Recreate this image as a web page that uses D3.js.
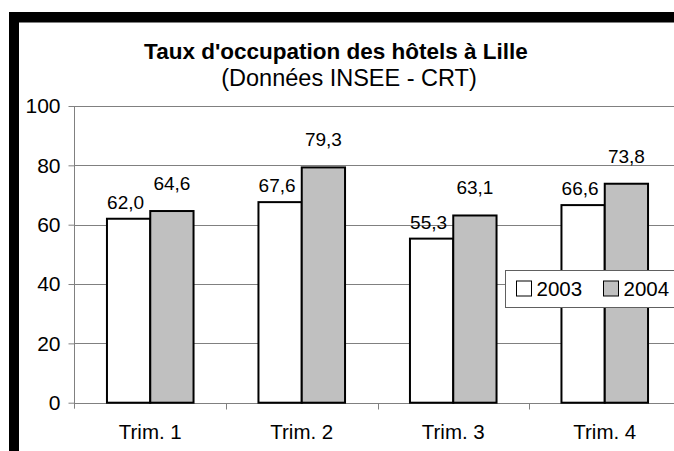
<!DOCTYPE html>
<html>
<head>
<meta charset="utf-8">
<script src="https://cdn.jsdelivr.net/npm/d3@7"></script>
<style>
    body { margin: 0; background: #fff; }
    svg { display: block; font-family: "Liberation Sans", Arial, sans-serif; }
</style>
</head>
<body>
<div id="chart"></div>
<script>

// data
let categories = ["Trim. 1", "Trim. 2", "Trim. 3", "Trim. 4"];
let seriesNames = ["2003", "2004"];
let values2003 = [62.0, 67.6, 55.3, 66.6];
let values2004 = [64.6, 79.3, 63.1, 73.8];
let yTicks = [0, 20, 40, 60, 80, 100];
let seriesFills = ["#ffffff", "#c0c0c0"];

let width = 674, height = 451;

let svg = d3.select("#chart").append("svg")
    .attr("width", width)
    .attr("height", height);

svg.append("rect")
    .attr("width", width)
    .attr("height", height)
    .attr("fill", "#fff");

// black frame pieces (top and left)
svg.append("rect").attr("x", 9).attr("y", 12).attr("width", width - 9).attr("height", 10.5).attr("fill", "#000");
svg.append("rect").attr("x", 9).attr("y", 12).attr("width", 10).attr("height", height - 12).attr("fill", "#000");

// titles
svg.append("text")
    .attr("x", 336).attr("y", 59)
    .attr("text-anchor", "middle")
    .attr("font-size", 22.5).attr("font-weight", "bold")
    .text("Taux d'occupation des hôtels à Lille");

svg.append("text")
    .attr("x", 349).attr("y", 86)
    .attr("text-anchor", "middle")
    .attr("font-size", 23.5)
    .text("(Données INSEE - CRT)");

// scales
let x0 = d3.scaleBand()
    .domain(categories)
    .range([74.5, 680.5])
    .paddingInner(0)
    .paddingOuter(0);

let barW = x0.bandwidth() / 3.5;   // gap width 150%

let x1 = d3.scaleBand()
    .domain(seriesNames)
    .range([0, barW * 2]);

let y = d3.scaleLinear()
    .domain([0, 100])
    .range([402.7, 106]);

let plot = svg.append("g");

// gridlines
plot.selectAll(".grid")
    .data(yTicks.filter(d => d > 0))
    .enter().append("line")
    .attr("x1", 74.5).attr("x2", width)
    .attr("y1", d => Math.round(y(d)) + 0.5)
    .attr("y2", d => Math.round(y(d)) + 0.5)
    .attr("stroke", "#808080")
    .attr("stroke-width", 1);

// y axis
let yAxis = d3.axisLeft(y)
    .tickValues(yTicks)
    .tickSize(6)
    .tickPadding(8)
    .tickFormat(d3.format("d"));

let yg = svg.append("g")
    .attr("transform", "translate(74.5,0)")
    .call(yAxis);
yg.select(".domain").remove();
yg.selectAll(".tick line").attr("stroke", "#808080");
yg.selectAll(".tick text")
    .attr("font-size", 21)
    .attr("font-family", "Liberation Sans, Arial, sans-serif")
    .attr("fill", "#000");

svg.append("line")
    .attr("x1", 74.5).attr("x2", 74.5)
    .attr("y1", y(100)).attr("y2", y(0) + 6)
    .attr("stroke", "#808080");

// x axis
let xAxis = d3.axisBottom(x0).tickSize(0).tickPadding(21);
let xg = svg.append("g")
    .attr("transform", "translate(0," + (Math.round(y(0)) + 0.5) + ")")
    .call(xAxis);
xg.select(".domain").attr("stroke", "#808080").attr("d", "M74.5,0H" + width);
xg.selectAll(".tick text")
    .attr("font-size", 20.5)
    .attr("font-family", "Liberation Sans, Arial, sans-serif")
    .attr("fill", "#000");

// boundary ticks between categories
xg.selectAll(".bound")
    .data(categories.slice(1))
    .enter().append("line")
    .attr("x1", d => Math.round(x0(d)) + 0.5)
    .attr("x2", d => Math.round(x0(d)) + 0.5)
    .attr("y1", 0).attr("y2", 6)
    .attr("stroke", "#808080");

// bars
let rows = categories.map((c, i) => ({
    cat: c,
    vals: [
        {name: seriesNames[0], value: values2003[i], fill: seriesFills[0]},
        {name: seriesNames[1], value: values2004[i], fill: seriesFills[1]}
    ]
}));

let fmt = v => d3.format(".1f")(v).replace(".", ",");
let labelLift = {"2003": 10, "2004": 21};

let groups = svg.selectAll(".grp")
    .data(rows)
    .enter().append("g")
    .attr("class", "grp")
    .attr("transform", d => "translate(" + (x0(d.cat) + (x0.bandwidth() - barW * 2) / 2) + ",0)");

groups.selectAll("rect")
    .data(d => d.vals)
    .enter().append("rect")
    .attr("x", d => x1(d.name))
    .attr("y", d => y(d.value))
    .attr("width", x1.bandwidth())
    .attr("height", d => y(0) - y(d.value))
    .attr("fill", d => d.fill)
    .attr("stroke", "#000")
    .attr("stroke-width", 2);

groups.selectAll(".lbl")
    .data(d => d.vals)
    .enter().append("text")
    .attr("class", "lbl")
    .attr("x", d => x1(d.name) + x1.bandwidth() / 2 - (d.name === "2003" ? 3 : 0))
    .attr("y", d => y(d.value) - labelLift[d.name])
    .attr("text-anchor", "middle")
    .attr("font-size", 19)
    .text(d => fmt(d.value));

// legend
let legend = svg.append("g").attr("transform", "translate(505.5,270.5)");
legend.append("rect")
    .attr("width", 200).attr("height", 37)
    .attr("fill", "#fff")
    .attr("stroke", "#606060");

let items = legend.selectAll(".item")
    .data(seriesNames)
    .enter().append("g")
    .attr("transform", (d, i) => "translate(" + (11 + i * 87) + ",0)");

items.append("rect")
    .attr("y", 10.5)
    .attr("width", 15).attr("height", 15)
    .attr("fill", (d, i) => seriesFills[i])
    .attr("stroke", "#000");

items.append("text")
    .attr("x", 20).attr("y", 25.5)
    .attr("font-size", 20.5)
    .text(d => d);

</script>
</body>
</html>
